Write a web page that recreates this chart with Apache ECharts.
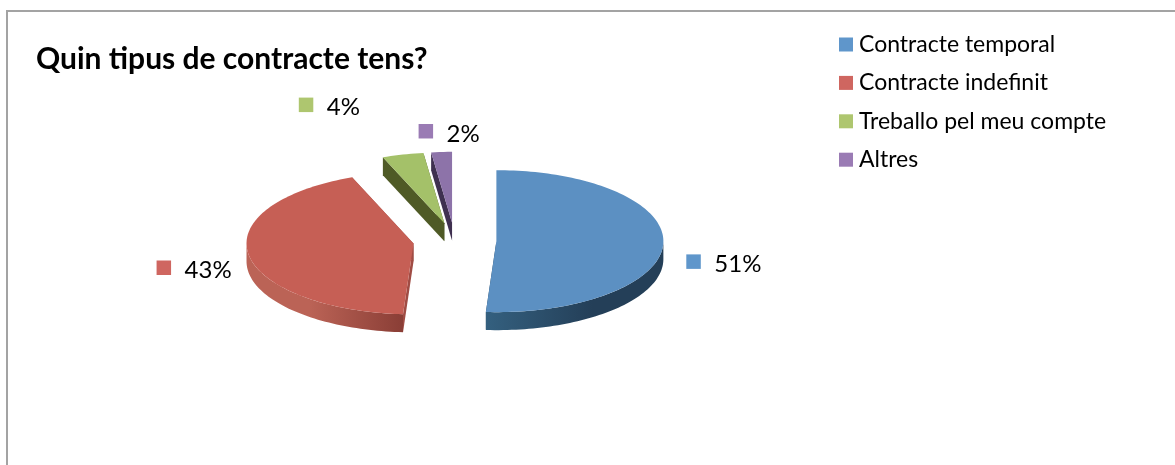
<!DOCTYPE html>
<html><head><meta charset="utf-8">
<style>html,body{margin:0;padding:0;background:#fff}#c{width:1175px;height:465px}</style>
<script src="https://cdn.jsdelivr.net/npm/echarts@6/dist/echarts.min.js"></script>
</head><body><div id="c"></div>
<script>
const titleText = 'Quin tipus de contracte tens?';
const categories = ['Contracte temporal', 'Contracte indefinit', 'Treballo pel meu compte', 'Altres'];
const values = [51, 43, 4, 2];

// styles and layout, separate from the data
const topColors = ['#5c90c2', '#c65f55', '#a4c169', '#8d73a9'];
const swatchColors = ['#5f96cb', '#cf6660', '#aec66f', '#9a7bb4'];
const wallColors = ['#26425a', '#a04c44', '#4f5a26', '#3f3050'];
const sideStops = [['#34607f', '#243f58'], ['#bb6356', '#8a3e36'], ['#4f5a26', '#4f5a26'], ['#3f3050', '#3f3050']];
const labelOffsets = [[23, 18], [-92, 13], [-104, -50], [-23, -21]];
const FONT = 'Lato, "Open Sans", sans-serif';
const CX = 454.7, CY = 240.6, RX = 167, RY = 71, DEPTH = 18, EX = 41.7, EY = 17.8;

const total = values.reduce((a, b) => a + b, 0);
const rad = d => d * Math.PI / 180;
const startAngles = values.map((v, i) => values.slice(0, i).reduce((a, b) => a + b, 0) / total * 360);

function arcPts(ax, ay, a0, a1, dy) {
  const n = Math.max(2, Math.ceil(Math.abs(a1 - a0) / 1.5));
  const out = [];
  for (let k = 0; k <= n; k++) {
    const t = rad(a0 + (a1 - a0) * k / n);
    out.push([ax + RX * Math.sin(t), ay - RY * Math.cos(t) + dy]);
  }
  return out;
}

function renderSlice(idx, value) {
  const a0 = startAngles[idx], a1 = a0 + value / total * 360, mid = (a0 + a1) / 2;
  const ax = CX + EX * Math.sin(rad(mid)), ay = CY - EY * Math.cos(rad(mid));
  const children = [];
  [a0, a1].forEach(a => {
    const p = [ax + RX * Math.sin(rad(a)), ay - RY * Math.cos(rad(a))];
    children.push({ type: 'polygon', silent: true, shape: { points: [[ax, ay], p, [p[0], p[1] + DEPTH], [ax, ay + DEPTH]] },
      style: { fill: wallColors[idx] } });
  });
  const s0 = Math.max(a0, 90), s1 = Math.min(a1, 270);
  if (s1 > s0) {
    const upper = arcPts(ax, ay, s0, s1, 0), lower = arcPts(ax, ay, s1, s0, DEPTH);
    const rightFirst = idx === 0;
    children.push({ type: 'polygon', silent: true, shape: { points: upper.concat(lower) },
      style: { fill: new echarts.graphic.LinearGradient(0, 0, 1, 0, rightFirst
        ? [{ offset: 0, color: sideStops[idx][0] }, { offset: 0.6, color: sideStops[idx][1] }, { offset: 1, color: sideStops[idx][1] }]
        : [{ offset: 0, color: sideStops[idx][0] }, { offset: 0.4, color: sideStops[idx][0] }, { offset: 1, color: sideStops[idx][1] }]) } });
  }
  children.push({ type: 'polygon', silent: true, shape: { points: [[ax, ay]].concat(arcPts(ax, ay, a0, a1, 0)) },
    style: { fill: topColors[idx] } });
  const ox = ax + RX * Math.sin(rad(mid)), oy = ay - RY * Math.cos(rad(mid));
  const lx = ox + labelOffsets[idx][0], ly = oy + labelOffsets[idx][1];
  children.push({ type: 'rect', silent: true, shape: { x: lx, y: ly - 7, width: 14.5, height: 14.5 }, style: { fill: swatchColors[idx] } });
  children.push({ type: 'text', silent: true, style: { x: lx + 28, y: ly + 3, text: Math.round(value / total * 100) + '%',
    font: '24px ' + FONT, fill: '#000', textVerticalAlign: 'middle', textAlign: 'left' } });
  return { type: 'group', children };
}

const chart = echarts.init(document.getElementById('c'), null, { renderer: 'canvas' });
chart.setOption({
  animation: false,
  backgroundColor: '#fff',
  graphic: [{ type: 'rect', silent: true, shape: { x: 7, y: 11, width: 1300, height: 600 },
    style: { fill: 'none', stroke: '#a3a3a3', lineWidth: 2 }, z: 0 }],
  title: { text: titleText, left: 36, top: 44, padding: 0,
    textStyle: { fontFamily: FONT, fontWeight: 'bold', fontSize: 30, color: '#000' } },
  legend: {
    orient: 'vertical', left: 839, top: 33, itemWidth: 14, itemHeight: 14, itemGap: 15.4, padding: 0,
    icon: 'rect', selectedMode: false,
    textStyle: { fontFamily: FONT, fontSize: 23, color: '#000', padding: [3, 0, 0, 1] },
    data: categories.map((name, i) => ({ name, itemStyle: { color: swatchColors[i] } }))
  },
  series: categories.map((name, i) => ({
    type: 'custom', name, coordinateSystem: 'none', silent: true,
    itemStyle: { color: swatchColors[i] },
    data: [[values[i]]],
    renderItem: (params, api) => renderSlice(i, api.value(0))
  }))
});
</script></body></html>
